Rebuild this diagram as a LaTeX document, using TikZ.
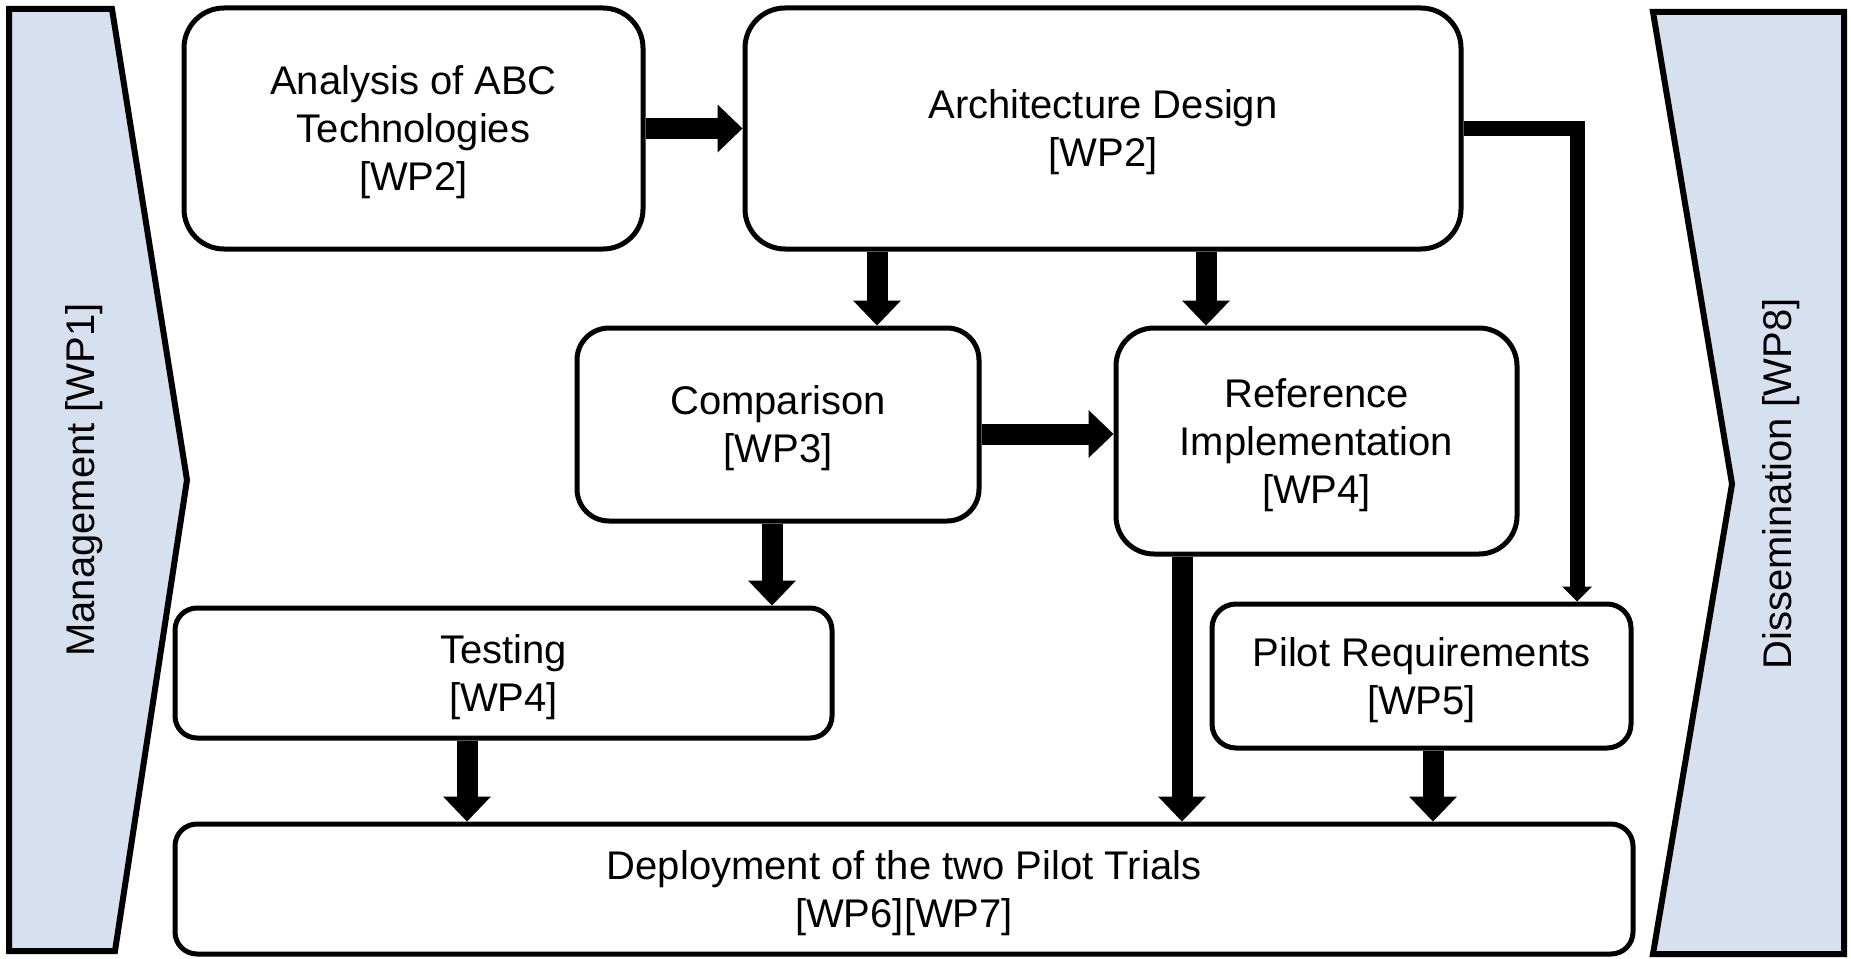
\documentclass[tikz,border=0pt]{standalone}
\usepackage{fontspec}
\setmainfont{Liberation Sans}
\usetikzlibrary{arrows.meta}
\definecolor{chevfill}{HTML}{D7E0EF}
\begin{document}
\begin{tikzpicture}[x=1pt,y=-1pt,
  txt/.style={font=\fontsize{40}{48}\selectfont},
  box/.style={draw, line width=5pt, rounded corners=#1, align=center, inner sep=0pt, text depth=0pt, txt},
  box/.default=30pt,
  chev/.style={draw, fill=chevfill, line width=6pt, line join=miter},
  bigarrow/.style={line width=21pt, -{Triangle[width=48pt 0 0, length=25pt 0 0, line width=0pt]}},
  thinarrow/.style={line width=15pt, line join=miter, -{Triangle[width=30pt 0 0, length=15pt 0 0, line width=0pt]}}
]
\useasboundingbox (0,0) rectangle (1851,958);
% side chevrons
\draw[chev] (9,9) -- (112,9) -- (187,480) -- (115,951) -- (9,951) -- cycle;
\draw[chev] (1653,12) -- (1844,12) -- (1844,954) -- (1653,954) -- (1732,484) -- cycle;
\node[txt, rotate=90] (mgmt) at (84,480) {Management [WP1]};
\node[txt, rotate=90] (diss) at (1781,484) {Dissemination [WP8]};
% boxes
\node[box=40pt, minimum width=459pt, minimum height=241pt] (ana) at (413.5,128.5) {Analysis of ABC\\Technologies\\{[WP2]}};
\node[box=40pt, minimum width=716pt, minimum height=241pt] (arch) at (1103,128.5) {Architecture Design\\{[WP2]}};
\node[box=32pt, minimum width=402pt, minimum height=193pt] (comp) at (778,424.5) {Comparison\\{[WP3]}};
\node[box=38pt, minimum width=401pt, minimum height=226pt] (ref) at (1316.5,441) {Reference\\Implementation\\{[WP4]}};
\node[box=22pt, minimum width=657pt, minimum height=130pt] (test) at (503.5,673) {Testing\\{[WP4]}};
\node[box=24pt, minimum width=419pt, minimum height=144pt] (pilot) at (1421.5,676) {Pilot Requirements\\{[WP5]}};
\node[box=22pt, minimum width=1458pt, minimum height=130pt] (dep) at (904,889) {Deployment of the two Pilot Trials\\{[WP6][WP7]}};
% arrows
\draw[bigarrow] (ana.east) -- (arch.west);
\draw[bigarrow] (arch.south -| 877,0) -- (comp.north -| 877,0);
\draw[bigarrow] (arch.south -| 1206,0) -- (ref.north -| 1206,0);
\draw[bigarrow] (comp.east |- 0,434) -- (ref.west |- 0,434);
\draw[bigarrow] (comp.south -| 772,0) -- (test.north -| 772,0);
\draw[bigarrow] (ref.south -| 1182,0) -- (dep.north -| 1182,0);
\draw[bigarrow] (test.south -| 467,0) -- (dep.north -| 467,0);
\draw[bigarrow] (pilot.south -| 1433,0) -- (dep.north -| 1433,0);
\coordinate (corner) at (1577,128.5);
\draw[thinarrow] (arch.east) -| (pilot.north -| corner);
\end{tikzpicture}
\end{document}
